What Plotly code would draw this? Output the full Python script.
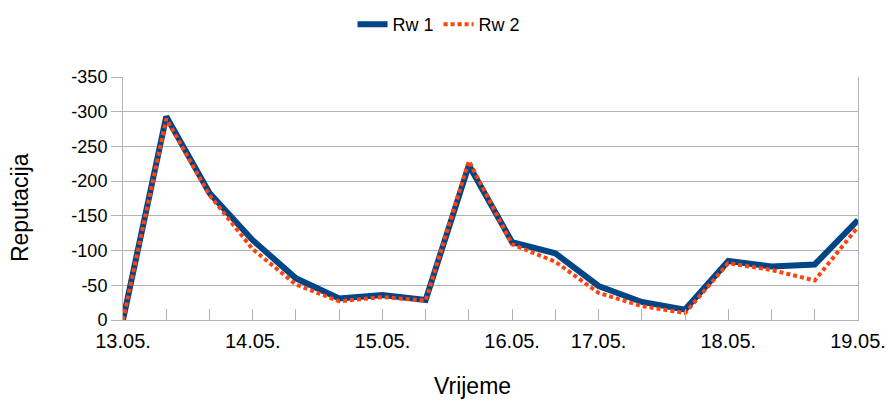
import plotly.graph_objects as go

categories = ["13.05.", "", "", "14.05.", "", "", "15.05.", "", "", "16.05.", "",
              "17.05.", "", "", "18.05.", "", "", "19.05."]
rw1 = [0, -293, -183, -115, -60, -31, -36, -29, -223, -112, -96, -49, -26, -15, -85, -77, -80, -144]
rw2 = [0, -290, -180, -102, -51, -27, -33, -28, -229, -109, -84, -39, -20, -10, -82, -72, -57, -134]
y_ticks = [0, -50, -100, -150, -200, -250, -300, -350]

xs = list(range(len(categories)))
FONT = "Liberation Sans, Arial, sans-serif"
GRID = "#b3b3b3"

fig = go.Figure()
fig.add_trace(go.Scatter(x=xs, y=rw1, name="Rw 1", mode="lines",
                         line=dict(color="#004586", width=6)))
fig.add_trace(go.Scatter(x=xs, y=rw2, name="Rw 2", mode="lines",
                         line=dict(color="#ff420e", width=4, dash="4px,3px")))

fig.update_layout(
    width=887, height=400,
    margin=dict(l=123, r=29, t=77, b=80),
    paper_bgcolor="white", plot_bgcolor="white",
    font=dict(family=FONT, size=18, color="#000000"),
    legend=dict(orientation="h", x=0.430, xref="paper", xanchor="center",
                y=0.985, yref="container", yanchor="top",
                font=dict(size=18), itemwidth=30, tracegroupgap=0),
    xaxis=dict(range=[0, 17], tickmode="array", tickvals=xs, ticktext=categories,
               ticks="inside", ticklen=11, tickcolor=GRID, tickwidth=1,
               showline=True, linecolor=GRID, linewidth=1,
               showgrid=False, zeroline=False, automargin=False,
               tickfont=dict(size=20), ticklabelstandoff=3),
    yaxis=dict(range=[0, -350], tickmode="array", tickvals=y_ticks,
               ticktext=[str(v) for v in y_ticks],
               ticks="outside", ticklen=11, tickcolor=GRID, tickwidth=1,
               showline=True, linecolor=GRID, linewidth=1, mirror=True,
               showgrid=True, gridcolor=GRID, gridwidth=1, zeroline=False,
               automargin=False, tickfont=dict(size=18)),
    annotations=[
        dict(text="Reputacija", textangle=-90, showarrow=False,
             xref="paper", yref="paper", x=-0.140, y=0.461,
             xanchor="center", yanchor="middle", font=dict(size=23)),
        dict(text="Vrijeme", showarrow=False,
             xref="paper", yref="paper", x=0.475, y=-0.272,
             xanchor="center", yanchor="middle", font=dict(size=23)),
    ],
)

fig.write_html("out.html")
